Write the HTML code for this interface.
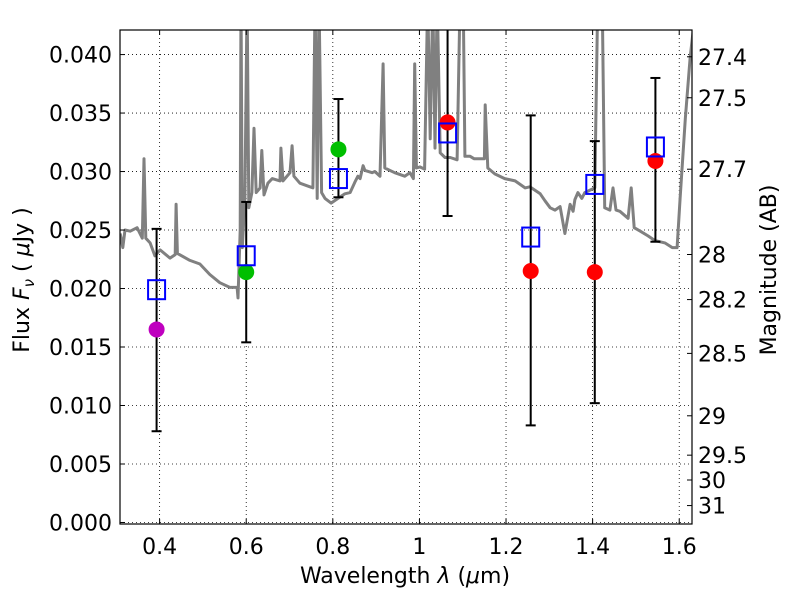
<!DOCTYPE html>
<html><head><meta charset="utf-8"><style>
body{margin:0;background:#fff;}
svg{display:block;font-family:"DejaVu Sans","Liberation Sans",sans-serif;}
</style></head><body>
<svg id="chart" width="800" height="600">
<defs><clipPath id="clip"><rect x="120" y="30" width="572" height="494"/></clipPath></defs>
<g id="grid"></g>
<g id="spec" clip-path="url(#clip)"></g>
<g id="marks" clip-path="url(#clip)"></g>
<rect x="120" y="30" width="572" height="494" fill="none" stroke="#000" stroke-width="1.2"/>
<g id="axes"></g>
<text x="405" y="583" font-size="22" text-anchor="middle">Wavelength  <tspan font-style="italic">λ</tspan> (<tspan font-style="italic">μ</tspan>m)</text>
<text transform="translate(29,280) rotate(-90)" font-size="22" text-anchor="middle">Flux  <tspan font-style="italic">F<tspan font-size="15" dy="5">ν</tspan></tspan><tspan dy="-5">  ( </tspan><tspan font-style="italic">μ</tspan>Jy )</text>
<text transform="translate(776,270) rotate(-90)" font-size="22" text-anchor="middle">Magnitude (AB)</text>
</svg>
<script>
const xTicks=[0.4,0.6,0.8,1.0,1.2,1.4,1.6];
const xTickLabels=["0.4","0.6","0.8","1","1.2","1.4","1.6"];
const yTicks=[0,0.005,0.01,0.015,0.02,0.025,0.03,0.035,0.04];
const yTickLabels=["0.000","0.005","0.010","0.015","0.020","0.025","0.030","0.035","0.040"];
const magTicks=[27.4,27.5,27.7,28,28.2,28.5,29,29.5,30,31];
const magLabels=["27.4","27.5","27.7","28","28.2","28.5","29","29.5","30","31"];
const specWave=[
0.309,0.315,0.320,0.332,0.348,0.360,0.364,0.368,0.378,0.389,
0.401,0.424,0.436,0.438,0.441,0.470,0.493,0.516,0.539,0.562,
0.579,0.581,0.586,0.588,0.591,0.597,0.602,0.606,0.613,0.618,
0.623,0.632,0.636,0.641,0.650,0.660,0.678,0.680,0.685,0.701,
0.706,0.710,0.724,0.747,0.754,0.759,0.764,0.768,0.774,0.782,
0.796,0.812,0.828,0.840,0.851,0.858,0.863,0.870,0.874,0.891,
0.897,0.909,0.916,0.920,0.943,0.966,0.978,0.986,0.989,0.993,
1.001,1.012,1.019,1.025,1.031,1.036,1.041,1.048,1.059,1.071,
1.087,1.094,1.101,1.105,1.117,1.126,1.150,1.152,1.158,1.174,
1.197,1.221,1.244,1.255,1.279,1.290,1.302,1.313,1.325,1.336,
1.348,1.355,1.359,1.366,1.375,1.382,1.405,1.412,1.422,1.428,
1.440,1.447,1.454,1.463,1.482,1.489,1.496,1.510,1.528,1.544,
1.567,1.584,1.595,1.602,1.614,1.625,1.632];
const specFlux=[
0.0247,0.0235,0.0250,0.0249,0.0252,0.0243,0.0311,0.0243,0.0239,0.0228,
0.0233,0.0226,0.0229,0.0272,0.0230,0.0224,0.0221,0.0212,0.0205,0.0201,
0.0201,0.0192,0.0250,0.0450,0.0235,0.0277,0.0450,0.0269,0.0282,0.0337,
0.0282,0.0286,0.0318,0.0280,0.0290,0.0294,0.0292,0.0320,0.0292,0.0299,
0.0322,0.0296,0.0290,0.0287,0.0286,0.0450,0.0277,0.0450,0.0282,0.0277,
0.0273,0.0277,0.0281,0.0282,0.0291,0.0296,0.0294,0.0305,0.0301,0.0299,
0.0300,0.0296,0.0392,0.0303,0.0299,0.0296,0.0299,0.0294,0.0392,0.0303,
0.0304,0.0302,0.0450,0.0328,0.0450,0.0320,0.0450,0.0316,0.0312,0.0312,
0.0310,0.0450,0.0450,0.0313,0.0313,0.0311,0.0311,0.0357,0.0303,0.0298,
0.0294,0.0292,0.0286,0.0287,0.0281,0.0275,0.0269,0.0267,0.0270,0.0247,
0.0272,0.0266,0.0276,0.0282,0.0277,0.0282,0.0286,0.0450,0.0450,0.0269,
0.0267,0.0286,0.0267,0.0266,0.0260,0.0286,0.0252,0.0249,0.0245,0.0241,
0.0239,0.0235,0.0235,0.0277,0.0345,0.0397,0.0420];
const photWave=[0.393,0.600,0.813,1.065,1.257,1.405,1.545];
const modelFlux=[0.0199,0.0228,0.0294,0.0333,0.0244,0.0289,0.0321];
const obsFlux=[0.0165,0.0214,0.0319,0.0342,0.0215,0.0214,0.0309];
const errLow=[0.0078,0.0154,0.0278,0.0262,0.0083,0.0102,0.0240];
const errHigh=[0.0251,0.0274,0.0362,0.0430,0.0348,0.0326,0.0380];
const obsColor=["#bf00bf","#00bf00","#00bf00","#ff0000","#ff0000","#ff0000","#ff0000"];

const NS="http://www.w3.org/2000/svg";
const X0=120,X1=692,Y0=524,Y1=30,XMIN=0.3085,XMAX=1.6295,YMIN=-0.00013,YMAX=0.0421;
const sx=v=>X0+(v-XMIN)/(XMAX-XMIN)*(X1-X0);
const sy=v=>Y0-(v-YMIN)/(YMAX-YMIN)*(Y0-Y1);
const magToFlux=m=>Math.pow(10,(23.9-m)/2.5);
function mk(tag,attrs,parent,text){const e=document.createElementNS(NS,tag);for(const k in attrs)e.setAttribute(k,attrs[k]);if(text!==undefined)e.textContent=text;parent.appendChild(e);return e;}
const grid=document.getElementById('grid'),axes=document.getElementById('axes');
xTicks.forEach((t,i)=>{const x=sx(t);
 const g=mk('line',{x1:x,x2:x,y1:Y1,y2:Y0,stroke:'#000','stroke-width':0.8,'stroke-dasharray':'1,3'},grid);
 
 
 mk('line',{x1:x,x2:x,y1:Y0,y2:Y0-5,stroke:'#000'},axes);
 mk('line',{x1:x,x2:x,y1:Y1,y2:Y1+5,stroke:'#000'},axes);
 const l=mk('text',{x:x,y:554,'font-size':22,'text-anchor':'middle'},axes,xTickLabels[i]);
 
 });
yTicks.forEach((t,i)=>{const y=sy(t);
 const g=mk('line',{x1:X0,x2:X1,y1:y,y2:y,stroke:'#000','stroke-width':0.8,'stroke-dasharray':'1,3'},grid);
 
 
 mk('line',{x1:X0,x2:X0+5,y1:y,y2:y,stroke:'#000'},axes);
 const l=mk('text',{x:112,y:y+8,'font-size':22,'text-anchor':'end'},axes,yTickLabels[i]);
 
 });
magTicks.forEach((m,i)=>{const y=sy(magToFlux(m));
 mk('line',{x1:X1,x2:X1-5,y1:y,y2:y,stroke:'#000'},axes);
 const l=mk('text',{x:698,y:y+8,'font-size':22},axes,magLabels[i]);
 
 });
const spec=document.getElementById('spec');
const p=mk('polyline',{points:specWave.map((w,i)=>sx(w).toFixed(1)+','+sy(specFlux[i]).toFixed(1)).join(' '),fill:'none',stroke:'#808080','stroke-width':3,'stroke-linejoin':'round'},spec);


const marks=document.getElementById('marks');
photWave.forEach((w,i)=>{const x=sx(w);
 const e=mk('line',{x1:x,x2:x,y1:sy(errLow[i]),y2:sy(errHigh[i]),stroke:'#000','stroke-width':2},marks);
 
 
 [errLow[i],errHigh[i]].forEach(v=>mk('line',{x1:x-5,x2:x+5,y1:sy(v),y2:sy(v),stroke:'#000','stroke-width':2},marks));
 const c=mk('circle',{cx:x,cy:sy(obsFlux[i]),r:8,fill:obsColor[i]},marks);
 
 
 const s=mk('rect',{x:x-8.5,y:sy(modelFlux[i])-9.5,width:17,height:19,fill:'none',stroke:'#0000ff','stroke-width':2},marks);
 
 });
</script>
</body></html>
